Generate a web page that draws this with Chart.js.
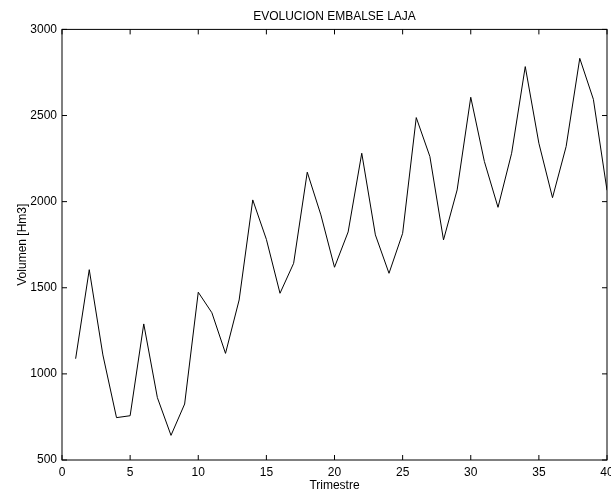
<!DOCTYPE html>
<html>
<head>
<meta charset="utf-8">
<title>Evolucion embalse Laja</title>
<script src="https://cdn.jsdelivr.net/npm/chart.js@4.4.1/dist/chart.umd.min.js"></script>
<style>
    html, body { margin: 0; padding: 0; background: #ffffff; }
    #lajaChart { display: block; }
</style>
</head>
<body>
<canvas id="lajaChart" width="611" height="493"></canvas>
<script>
const trimestres = [1, 2, 3, 4, 5, 6, 7, 8, 9, 10,
    11, 12, 13, 14, 15, 16, 17, 18, 19, 20,
    21, 22, 23, 24, 25, 26, 27, 28, 29, 30,
    31, 32, 33, 34, 35, 36, 37, 38, 39, 40];

const volumenHm3 = [1088, 1605, 1110, 746, 757, 1290, 862, 643, 825, 1474,
    1355, 1119, 1429, 2010, 1781, 1468, 1642, 2171, 1923, 1619,
    1824, 2281, 1807, 1584, 1816, 2488, 2262, 1778, 2068, 2606,
    2233, 1967, 2281, 2784, 2339, 2023, 2320, 2832, 2594, 2066];

const xTickValues = [0, 5, 10, 15, 20, 25, 30, 35, 40];
const yTickValues = [500, 1000, 1500, 2000, 2500, 3000];

const FONT_FAMILY = "'Liberation Sans', Arial, Helvetica, sans-serif";

Chart.defaults.color = "#000000";
Chart.defaults.font.family = FONT_FAMILY;
Chart.defaults.font.size = 12;

// matlab style box with inward ticks on all four sides
const boxFramePlugin = {
    id: "boxFrame",
    afterDraw(chart) {
        const { ctx, chartArea, scales } = chart;
        const { left, right, top, bottom } = chartArea;
        const tickLen = 5;
        ctx.save();
        ctx.strokeStyle = "#000000";
        ctx.lineWidth = 1;
        ctx.strokeRect(left, top, right - left, bottom - top);
        ctx.beginPath();
        xTickValues.forEach(v => {
            const px = scales.x.getPixelForValue(v);
            ctx.moveTo(px, bottom);
            ctx.lineTo(px, bottom - tickLen);
            ctx.moveTo(px, top);
            ctx.lineTo(px, top + tickLen);
        });
        yTickValues.forEach(v => {
            const py = scales.y.getPixelForValue(v);
            ctx.moveTo(left, py);
            ctx.lineTo(left + tickLen, py);
            ctx.moveTo(right, py);
            ctx.lineTo(right - tickLen, py);
        });
        ctx.stroke();
        ctx.restore();
    }
};

function buildPoints() {
    return trimestres.map((t, i) => ({ x: t, y: volumenHm3[i] }));
}

function plainTick(value) {
    return String(value);
}

new Chart(document.getElementById("lajaChart"), {
    type: "line",
    data: {
        datasets: [{
            label: "Volumen",
            data: buildPoints(),
            borderColor: "#000000",
            borderWidth: 1,
            pointRadius: 0,
            tension: 0,
            fill: false
        }]
    },
    options: {
        responsive: false,
        animation: false,
        devicePixelRatio: 1,
        layout: { padding: { top: 0, left: 0, right: 4, bottom: 0 } },
        plugins: {
            legend: { display: false },
            tooltip: { enabled: false },
            title: {
                display: true,
                text: "EVOLUCION EMBALSE LAJA",
                fullSize: false,
                color: "#000000",
                font: { family: FONT_FAMILY, size: 12, weight: "normal" },
                padding: { top: 9, bottom: 6 }
            }
        },
        scales: {
            x: {
                type: "linear",
                min: 0,
                max: 40,
                afterBuildTicks(scale) {
                    scale.ticks = xTickValues.map(v => ({ value: v }));
                },
                afterFit(scale) {
                    scale.height = 33;
                    scale.paddingLeft = 0;
                    scale.paddingRight = 0;
                },
                grid: { display: false, drawTicks: false },
                border: { display: false },
                ticks: { padding: 5, maxRotation: 0, autoSkip: false, color: "#000000", callback: plainTick },
                title: {
                    display: true,
                    text: "Trimestre",
                    color: "#000000",
                    padding: { top: 0, bottom: 0 }
                }
            },
            y: {
                type: "linear",
                min: 500,
                max: 3000,
                afterBuildTicks(scale) {
                    scale.ticks = yTickValues.map(v => ({ value: v }));
                },
                afterFit(scale) {
                    scale.width = 62;
                    scale.paddingTop = 0;
                    scale.paddingBottom = 0;
                },
                grid: { display: false, drawTicks: false },
                border: { display: false },
                ticks: { padding: 5, autoSkip: false, color: "#000000", callback: plainTick },
                title: {
                    display: true,
                    text: "Volumen [Hm3]",
                    color: "#000000",
                    padding: { top: 15, bottom: 0 }
                }
            }
        }
    },
    plugins: [boxFramePlugin]
});
</script>
</body>
</html>
